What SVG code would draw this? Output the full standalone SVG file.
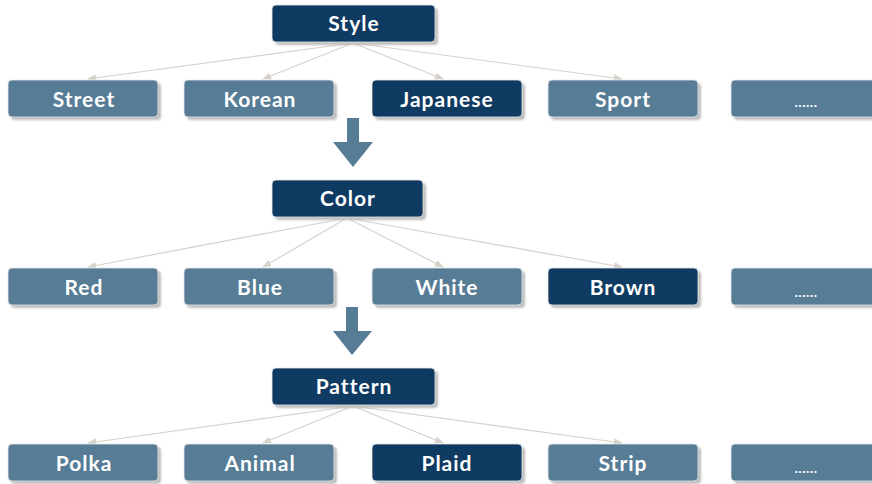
<svg xmlns="http://www.w3.org/2000/svg" width="872" height="484" viewBox="0 0 872 484">
  <defs>
    <marker id="tip" viewBox="0 0 10 10" refX="9" refY="5" markerWidth="9" markerHeight="9" markerUnits="userSpaceOnUse" orient="auto">
      <path d="M0,1 L10,5 L0,9 Z" fill="#d6d2ca"/>
    </marker>
    <filter id="soft" x="-5%" y="-20%" width="115%" height="160%">
      <feGaussianBlur stdDeviation="0.8"/>
    </filter>
  </defs>
  <style>
    .shadow { fill: #bdbdbd; filter: url(#soft); }
    .dark { fill: #0f3a62; stroke: #e8e8e8; stroke-width: 0.8; }
    .light { fill: #567c96; stroke: #e8e8e8; stroke-width: 0.8; }
    .label { fill: #ffffff; font-family: "Lato", "DejaVu Sans", sans-serif; font-weight: bold; font-size: 21px; letter-spacing: 1px; text-anchor: middle; }
    .dots { fill: #ffffff; font-family: "Lato", sans-serif; font-weight: bold; font-size: 14px; letter-spacing: 0.5px; text-anchor: middle; }
    .link { stroke: #d6d2ca; stroke-width: 1.2; fill: none; marker-end: url(#tip); }
    .step { fill: #567c96; }
  </style>

  <g id="connectors">
    <!-- Style fan -->
    <line class="link" x1="353" y1="43" x2="88" y2="79"/>
    <line class="link" x1="353" y1="43" x2="263" y2="79"/>
    <line class="link" x1="353" y1="43" x2="443" y2="79"/>
    <line class="link" x1="353" y1="43" x2="622" y2="79"/>
    <!-- Color fan -->
    <line class="link" x1="347" y1="218" x2="88" y2="267"/>
    <line class="link" x1="347" y1="218" x2="263" y2="267"/>
    <line class="link" x1="347" y1="218" x2="443" y2="267"/>
    <line class="link" x1="347" y1="218" x2="622" y2="267"/>
    <!-- Pattern fan -->
    <line class="link" x1="353" y1="406" x2="88" y2="443"/>
    <line class="link" x1="353" y1="406" x2="263" y2="443"/>
    <line class="link" x1="353" y1="406" x2="443" y2="443"/>
    <line class="link" x1="353" y1="406" x2="622" y2="443"/>
    <!-- step arrows -->
    <path class="step" d="M347,118 H359 V142 H373 L353,167 L333,142 H347 Z"/>
    <path class="step" d="M346,307 H358 V331 H372 L352,355 L333,331 H346 Z"/>
  </g>

  <!-- level 1 -->
  <g id="style">
    <rect class="shadow" x="275" y="8" width="163" height="37" rx="4"/>
    <rect class="dark" x="272" y="5" width="163" height="37" rx="4"/>
    <text class="label" x="354" y="31">Style</text>
  </g>
  <g id="street">
    <rect class="shadow" x="11" y="83" width="150" height="37" rx="4"/>
    <rect class="light" x="8" y="80" width="150" height="37" rx="4"/>
    <text class="label" x="84" y="107">Street</text>
  </g>
  <g id="korean">
    <rect class="shadow" x="187" y="83" width="150" height="37" rx="4"/>
    <rect class="light" x="184" y="80" width="150" height="37" rx="4"/>
    <text class="label" x="260" y="107">Korean</text>
  </g>
  <g id="japanese">
    <rect class="shadow" x="375" y="83" width="150" height="37" rx="4"/>
    <rect class="dark" x="372" y="80" width="150" height="37" rx="4"/>
    <text class="label" x="447" y="107">Japanese</text>
  </g>
  <g id="sport">
    <rect class="shadow" x="551" y="83" width="150" height="37" rx="4"/>
    <rect class="light" x="548" y="80" width="150" height="37" rx="4"/>
    <text class="label" x="623" y="107">Sport</text>
  </g>
  <g id="more-style">
    <rect class="shadow" x="734" y="83" width="150" height="37" rx="4"/>
    <rect class="light" x="731" y="80" width="150" height="37" rx="4"/>
    <text class="dots" x="806" y="107">......</text>
  </g>

  <!-- level 2 -->
  <g id="color">
    <rect class="shadow" x="275" y="183" width="151" height="37" rx="4"/>
    <rect class="dark" x="272" y="180" width="151" height="37" rx="4"/>
    <text class="label" x="348" y="206">Color</text>
  </g>
  <g id="red">
    <rect class="shadow" x="11" y="271" width="150" height="37" rx="4"/>
    <rect class="light" x="8" y="268" width="150" height="37" rx="4"/>
    <text class="label" x="84" y="295">Red</text>
  </g>
  <g id="blue">
    <rect class="shadow" x="187" y="271" width="150" height="37" rx="4"/>
    <rect class="light" x="184" y="268" width="150" height="37" rx="4"/>
    <text class="label" x="260" y="295">Blue</text>
  </g>
  <g id="white">
    <rect class="shadow" x="375" y="271" width="150" height="37" rx="4"/>
    <rect class="light" x="372" y="268" width="150" height="37" rx="4"/>
    <text class="label" x="447" y="295">White</text>
  </g>
  <g id="brown">
    <rect class="shadow" x="551" y="271" width="150" height="37" rx="4"/>
    <rect class="dark" x="548" y="268" width="150" height="37" rx="4"/>
    <text class="label" x="623" y="295">Brown</text>
  </g>
  <g id="more-color">
    <rect class="shadow" x="734" y="271" width="150" height="37" rx="4"/>
    <rect class="light" x="731" y="268" width="150" height="37" rx="4"/>
    <text class="dots" x="806" y="297">......</text>
  </g>

  <!-- level 3 -->
  <g id="pattern">
    <rect class="shadow" x="275" y="371" width="163" height="37" rx="4"/>
    <rect class="dark" x="272" y="368" width="163" height="37" rx="4"/>
    <text class="label" x="354" y="394">Pattern</text>
  </g>
  <g id="polka">
    <rect class="shadow" x="11" y="447" width="150" height="37" rx="4"/>
    <rect class="light" x="8" y="444" width="150" height="37" rx="4"/>
    <text class="label" x="84" y="471">Polka</text>
  </g>
  <g id="animal">
    <rect class="shadow" x="187" y="447" width="150" height="37" rx="4"/>
    <rect class="light" x="184" y="444" width="150" height="37" rx="4"/>
    <text class="label" x="260" y="471">Animal</text>
  </g>
  <g id="plaid">
    <rect class="shadow" x="375" y="447" width="150" height="37" rx="4"/>
    <rect class="dark" x="372" y="444" width="150" height="37" rx="4"/>
    <text class="label" x="447" y="471">Plaid</text>
  </g>
  <g id="strip">
    <rect class="shadow" x="551" y="447" width="150" height="37" rx="4"/>
    <rect class="light" x="548" y="444" width="150" height="37" rx="4"/>
    <text class="label" x="623" y="471">Strip</text>
  </g>
  <g id="more-pattern">
    <rect class="shadow" x="734" y="447" width="150" height="37" rx="4"/>
    <rect class="light" x="731" y="444" width="150" height="37" rx="4"/>
    <text class="dots" x="806" y="473">......</text>
  </g>
</svg>
